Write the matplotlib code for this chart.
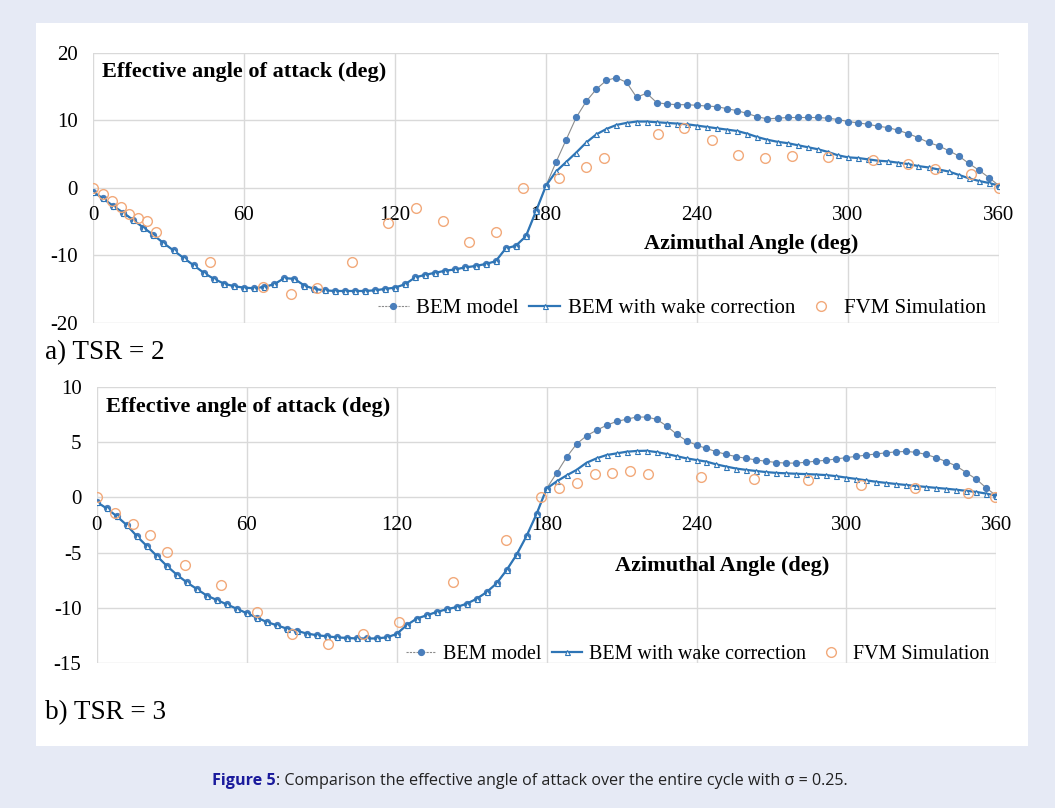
import numpy as np
import matplotlib
matplotlib.use('Agg')
import matplotlib.pyplot as plt
from matplotlib.patches import Rectangle

plt.rcParams['font.family'] = ['Liberation Serif', 'DejaVu Serif']
plt.rcParams['axes.unicode_minus'] = False

# azimuthal angle of the model curves (deg)
angle = list(range(0, 361, 4))
x_ticks = [0, 60, 120, 180, 240, 300, 360]

# TSR = 2 : both models coincide up to 180 deg
tsr2_common = [-0.6, -1.6, -2.7, -3.7, -4.8, -5.9, -7.0, -8.2, -9.3, -10.4,
               -11.5, -12.6, -13.5, -14.2, -14.6, -14.8, -14.9, -14.7, -14.3, -13.4,
               -13.5, -14.5, -15.0, -15.2, -15.3, -15.3, -15.3, -15.3, -15.2, -15.0,
               -14.8, -14.3, -13.3, -12.9, -12.6, -12.3, -12.1, -11.8, -11.6, -11.3,
               -10.9, -9.0, -8.6, -7.2, -3.5, 0.3]
tsr2_bem_tail = [3.8, 7.1, 10.4, 12.8, 14.6, 15.9, 16.3, 15.6, 13.4, 14.0,
                 12.6, 12.4, 12.3, 12.3, 12.2, 12.1, 12.0, 11.7, 11.4, 11.0,
                 10.5, 10.2, 10.3, 10.4, 10.4, 10.4, 10.4, 10.3, 10.1, 9.8,
                 9.6, 9.4, 9.1, 8.9, 8.5, 8.0, 7.4, 6.7, 6.2, 5.5,
                 4.7, 3.6, 2.6, 1.5, 0.3]
tsr2_wake_tail = [2.4, 3.8, 5.2, 6.7, 7.9, 8.7, 9.3, 9.6, 9.8, 9.8,
                  9.7, 9.6, 9.5, 9.4, 9.2, 9.0, 8.8, 8.6, 8.4, 8.0,
                  7.5, 7.1, 6.8, 6.6, 6.3, 6.0, 5.7, 5.3, 4.8, 4.5,
                  4.4, 4.2, 4.0, 3.9, 3.7, 3.5, 3.2, 3.0, 2.7, 2.4,
                  1.9, 1.4, 1.0, 0.7, 0.3]
tsr2_fvm_angle = [0, 3.8, 7.4, 11, 14.4, 18, 21.6, 25, 46.5, 67.7, 78.5, 89, 103,
                  117.3, 128.3, 139.2, 149.6, 160.3, 170.8, 185.3, 196, 203, 224.5,
                  235, 245.8, 256.4, 267, 277.8, 292, 309.8, 324, 334.5, 349, 360]
tsr2_fvm = [0.0, -0.9, -1.9, -2.9, -3.9, -4.5, -5.0, -6.5, -11.0, -14.7, -15.7, -14.9,
            -11.0, -5.3, -3.0, -5.0, -8.0, -6.5, 0.0, 1.5, 3.0, 4.4, 8.0, 8.8, 7.0,
            4.9, 4.4, 4.7, 4.6, 4.1, 3.5, 2.7, 2.0, 0.0]

# TSR = 3
tsr3_common = [-0.4, -1.0, -1.7, -2.5, -3.5, -4.4, -5.3, -6.2, -7.0, -7.7,
               -8.3, -8.9, -9.3, -9.7, -10.1, -10.5, -10.9, -11.3, -11.6, -11.9,
               -12.1, -12.35, -12.5, -12.6, -12.7, -12.75, -12.8, -12.8, -12.8, -12.7,
               -12.4, -11.6, -11.0, -10.7, -10.4, -10.15, -9.95, -9.65, -9.2, -8.6,
               -7.8, -6.6, -5.2, -3.5, -1.5, 0.8]
tsr3_bem_tail = [2.2, 3.65, 4.85, 5.6, 6.1, 6.55, 6.9, 7.1, 7.3, 7.3,
                 7.1, 6.5, 5.75, 5.15, 4.75, 4.45, 4.15, 3.9, 3.7, 3.55,
                 3.4, 3.28, 3.17, 3.12, 3.12, 3.2, 3.3, 3.38, 3.5, 3.62,
                 3.73, 3.85, 3.95, 4.06, 4.14, 4.18, 4.09, 3.9, 3.6, 3.25,
                 2.85, 2.25, 1.65, 0.85, 0.15]
tsr3_wake_tail = [1.45, 2.0, 2.5, 3.15, 3.55, 3.85, 4.0, 4.15, 4.22, 4.24,
                  4.12, 3.95, 3.75, 3.55, 3.4, 3.25, 3.0, 2.8, 2.62, 2.5,
                  2.4, 2.3, 2.23, 2.19, 2.15, 2.12, 2.08, 2.03, 1.93, 1.8,
                  1.68, 1.55, 1.42, 1.32, 1.22, 1.13, 1.04, 0.95, 0.87, 0.79,
                  0.7, 0.6, 0.5, 0.35, 0.15]
tsr3_fvm_angle = [0, 7.3, 14.4, 21.5, 28.3, 35.5, 49.7, 64.2, 78.3, 92.6, 106.6, 121,
                  142.5, 163.7, 177.7, 185, 192.2, 199.3, 206.3, 213.5, 220.5, 242,
                  263, 284.5, 306, 327.3, 348.7, 359.6]
tsr3_fvm = [0.0, -1.42, -2.42, -3.45, -4.96, -6.14, -7.93, -10.44, -12.38, -13.3,
            -12.38, -11.32, -7.7, -3.84, 0.0, 0.85, 1.3, 2.12, 2.2, 2.36, 2.12, 1.9,
            1.7, 1.6, 1.15, 0.85, 0.45, 0.0]

BEM_C = '#4a7ebb'
WAKE_C = '#2e75b6'
FVM_C = '#f2a97a'
GRID_C = '#d9d9d9'


def draw_panel(ax, bem, wake, fvm_x, fvm_y, ylim, yticks, xlab_pos, leg_pos, leg_size):
    ax.plot(angle, bem, color='#8c8c8c', lw=0.8, marker='o', ms=4.2,
            mfc=BEM_C, mec=BEM_C, label='BEM model', zorder=3)
    ax.plot(angle, wake, color=WAKE_C, lw=1.6, marker='^', ms=3.6,
            mfc='white', mec=WAKE_C, mew=0.8, label='BEM with wake correction', zorder=4)
    ax.plot(fvm_x, fvm_y, ls='none', marker='o', ms=7, mfc='none', mec=FVM_C,
            mew=1.0, label='FVM Simulation', zorder=5)

    ax.set_xlim(0, 360)
    ax.set_ylim(*ylim)
    ax.set_xticks(x_ticks)
    ax.set_yticks(yticks)
    ax.grid(True, color=GRID_C, lw=1.0)
    ax.set_axisbelow(True)
    for s in ax.spines.values():
        s.set_visible(False)
    ax.tick_params(length=0, labelbottom=False, labelsize=15, pad=11)

    # x tick labels sit under the zero line, as in Excel
    for t in x_ticks:
        ax.annotate(str(t), xy=(t, 0), xytext=(0, -13), textcoords='offset points',
                    ha='center', va='top', fontsize=15)

    ax.text(xlab_pos[0], xlab_pos[1], 'Azimuthal Angle (deg)', ha='center',
            va='center', fontsize=16, fontweight='bold')
    ax.text(0.01, 0.93, 'Effective angle of attack (deg)', transform=ax.transAxes,
            ha='left', va='center', fontsize=16, fontweight='bold')

    leg = ax.legend(loc='center', bbox_to_anchor=leg_pos, ncol=3, frameon=False,
                    fontsize=leg_size, handlelength=1.5, handletextpad=0.35,
                    columnspacing=0.5, borderaxespad=0)
    leg.get_lines()[0].set_linestyle((0, (2, 1)))


fig = plt.figure(figsize=(10.55, 8.08), dpi=100)
fig.patch.set_facecolor('#e6eaf5')
fig.add_artist(Rectangle((36 / 1055, 1 - 746 / 808), 992 / 1055, 723 / 808,
                         transform=fig.transFigure, facecolor='white',
                         edgecolor='none', zorder=0))

ax1 = fig.add_axes([93 / 1055, 1 - 322.7 / 808, 906 / 1055, 270 / 808])
ax1.patch.set_alpha(0)
draw_panel(ax1, tsr2_common + tsr2_bem_tail, tsr2_common + tsr2_wake_tail,
           tsr2_fvm_angle, tsr2_fvm, (-20, 20), [-20, -10, 0, 10, 20],
           (261.6, -8.4), (0.65, 0.054), 15)

ax2 = fig.add_axes([96.7 / 1055, 1 - 662.7 / 808, 899.7 / 1055, 275.4 / 808])
ax2.patch.set_alpha(0)
draw_panel(ax2, tsr3_common + tsr3_bem_tail, tsr3_common + tsr3_wake_tail,
           tsr3_fvm_angle, tsr3_fvm, (-15, 10), [-15, -10, -5, 0, 5, 10],
           (250.4, -6.25), (0.668, 0.028), 14.4)

fig.text(45 / 1055, 1 - 353 / 808, 'a) TSR = 2', fontsize=19.5, va='center')
fig.text(45 / 1055, 1 - 713 / 808, 'b) TSR = 3', fontsize=19.5, va='center')

# caption: bold blue "Figure 5" followed by the plain text
cap1 = fig.text(212 / 1055, 1 - 781 / 808, 'Figure 5', family='Open Sans',
                fontweight='bold', color='#1a1a9c', fontsize=11.6, va='center')
fig.canvas.draw()
bb = cap1.get_window_extent()
fig.text(bb.x1 / 1055, 1 - 781 / 808,
         ': Comparison the effective angle of attack over the entire cycle with \u03c3 = 0.25.',
         family='Open Sans', color='#222222', fontsize=11.6, va='center')

fig.savefig('out.png', dpi=100, facecolor=fig.get_facecolor())
